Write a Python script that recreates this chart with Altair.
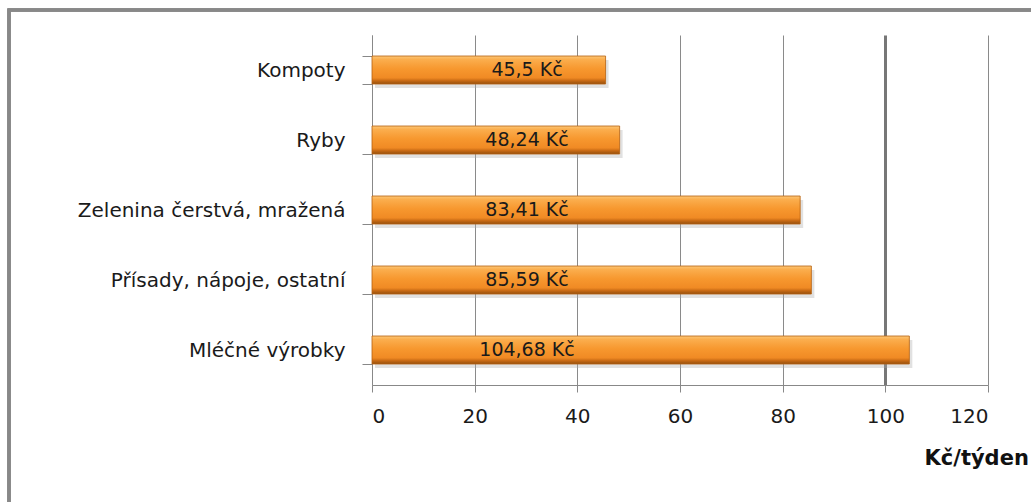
import altair as alt
import pandas as pd

categories = ["Kompoty", "Ryby", "Zelenina čerstvá, mražená",
              "Přísady, nápoje, ostatní", "Mléčné výrobky"]
values = [45.5, 48.24, 83.41, 85.59, 104.68]
labels = ["45,5 Kč", "48,24 Kč", "83,41 Kč", "85,59 Kč", "104,68 Kč"]
x_ticks = [0, 20, 40, 60, 80, 100, 120]

df = pd.DataFrame({"kat": categories, "val": values, "lab": labels})

FONT = "DejaVu Sans"

y_enc = alt.Y("kat:N", sort=categories, title=None,
              scale=alt.Scale(paddingInner=0.6, paddingOuter=0.3),
              axis=alt.Axis(labelFont=FONT, labelFontSize=20, labelColor="#1a1a1a",
                            labelPadding=17, tickSize=10, tickColor="#888",
                            domainColor="#888", tickBand="extent", labelLimit=400))

x_enc = alt.X("val:Q", title="Kč/týden",
              scale=alt.Scale(domain=[0, 120], nice=False),
              axis=alt.Axis(values=x_ticks, labelFont=FONT, labelFontSize=20,
                            labelColor="#1a1a1a", labelPadding=14, tickSize=7,
                            tickColor="#888", domainColor="#888",
                            gridColor={"condition": {"test": "datum.value === 100", "value": "#777"}, "value": "#8a8a8a"},
                            gridWidth={"condition": {"test": "datum.value === 100", "value": 3}, "value": 1},
                            titleFont=FONT, titleFontSize=21, titleFontWeight="bold",
                            titleColor="#111", titleAlign="left", titleBaseline="middle",
                            titleX=552, titleY=73, titleAnchor="start"))

base = alt.Chart(df)

frame = base.mark_rect(fill=None, stroke="#888", strokeWidth=3).encode(
    x=alt.value(-363), x2=alt.value(720), y=alt.value(-25), y2=alt.value(520)
)

shadow = base.mark_bar(color="#aaa", opacity=0.35, yOffset=4, xOffset=3).encode(
    y=y_enc, x=x_enc
)

grad = {
    "gradient": "linear", "x1": 0, "y1": 0, "x2": 0, "y2": 1,
    "stops": [
        {"offset": 0.0, "color": "#FDC878"},
        {"offset": 0.12, "color": "#FBAE4E"},
        {"offset": 0.45, "color": "#F7982F"},
        {"offset": 0.78, "color": "#F08A24"},
        {"offset": 0.88, "color": "#C86A14"},
        {"offset": 1.0, "color": "#94500E"},
    ],
}

bars = base.mark_bar(color=grad, stroke="#B5610F", strokeWidth=0.8).encode(
    y=y_enc, x=x_enc
)

text = base.mark_text(font=FONT, fontSize=19, color="#1a1a1a", align="center",
                      baseline="middle").encode(
    y=alt.Y("kat:N", sort=categories),
    x=alt.datum(30.2),
    text="lab:N",
)

chart = alt.layer(frame, shadow, bars, text).properties(
    width=616, height=350,
    autosize=alt.AutoSizeParams(type="none"),
    padding={"left": 372, "top": 35, "right": 43, "bottom": 117},
    background="white",
).configure_view(stroke=None)

chart.save("out.html", embed_options={"renderer": "svg", "actions": False})
